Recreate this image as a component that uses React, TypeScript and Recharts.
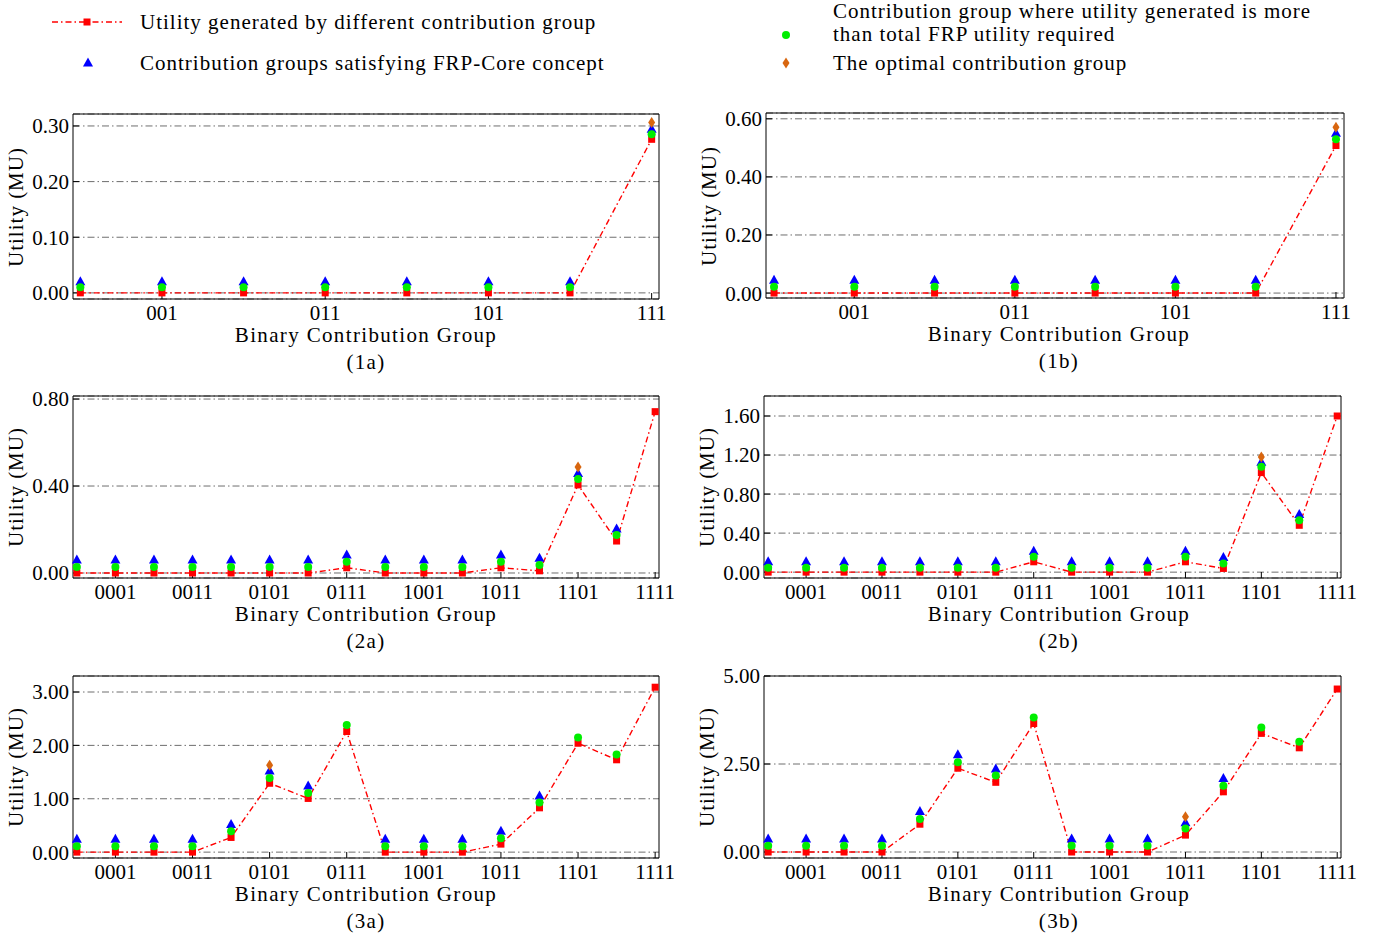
import React from 'react';
import { ComposedChart, Line, XAxis, YAxis, CartesianGrid } from 'recharts';

const FONT = '"Liberation Serif", "Times New Roman", serif';
const FS = 21;

// ---- categories / tick labels ----
const LABELS_3 = ['000', '001', '010', '011', '100', '101', '110', '111'];
const LABELS_4 = ['0000', '0001', '0010', '0011', '0100', '0101', '0110', '0111', '1000', '1001', '1010', '1011', '1100', '1101', '1110', '1111'];

const YTICKS_1A = [0, 0.1, 0.2, 0.3];
const YTICKS_1B = [0, 0.2, 0.4, 0.6];
const YTICKS_2A = [0, 0.4, 0.8];
const YTICKS_2B = [0, 0.4, 0.8, 1.2, 1.6];
const YTICKS_3A = [0, 1, 2, 3];
const YTICKS_3B = [0, 2.5, 5];

// ---- series values ----
const N = null;
// Panel 1a
const RED_1A = [0, 0, 0, 0, 0, 0, 0, 0.276];
const GREEN_1A = [0.01, 0.01, 0.01, 0.01, 0.01, 0.01, 0.01, 0.285];
const BLUE_1A = [0.02, 0.02, 0.02, 0.02, 0.02, 0.02, 0.02, 0.294];
const ORANGE_1A = [N, N, N, N, N, N, N, 0.306];
// Panel 1b
const RED_1B = [0, 0, 0, 0, 0, 0, 0, 0.508];
const GREEN_1B = [0.022, 0.022, 0.022, 0.022, 0.022, 0.022, 0.022, 0.53];
const BLUE_1B = [0.044, 0.044, 0.044, 0.044, 0.044, 0.044, 0.044, 0.55];
const ORANGE_1B = [N, N, N, N, N, N, N, 0.571];
// Panel 2a
const RED_2A = [0, 0, 0, 0, 0, 0, 0, 0.024, 0, 0, 0, 0.024, 0.01, 0.405, 0.147, 0.742];
const GREEN_2A = [0.028, 0.028, 0.028, 0.028, 0.028, 0.028, 0.028, 0.052, 0.028, 0.028, 0.028, 0.052, 0.037, 0.432, 0.175, N];
const BLUE_2A = [0.06, 0.06, 0.06, 0.06, 0.06, 0.06, 0.06, 0.083, 0.06, 0.06, 0.06, 0.083, 0.068, 0.458, 0.202, N];
const ORANGE_2A = [N, N, N, N, N, N, N, N, N, N, N, N, N, 0.487, N, N];
// Panel 2b
const RED_2B = [0, 0, 0, 0, 0, 0, 0, 0.106, 0, 0, 0, 0.106, 0.038, 1.02, 0.48, 1.6];
const GREEN_2B = [0.045, 0.045, 0.045, 0.045, 0.045, 0.045, 0.045, 0.157, 0.045, 0.045, 0.045, 0.157, 0.089, 1.08, 0.533, N];
const BLUE_2B = [0.106, 0.106, 0.106, 0.106, 0.106, 0.106, 0.106, 0.215, 0.106, 0.106, 0.106, 0.215, 0.15, 1.125, 0.59, N];
const ORANGE_2B = [N, N, N, N, N, N, N, N, N, N, N, N, N, 1.18, N, N];
// Panel 3a
const RED_3A = [0, 0, 0, 0, 0.275, 1.29, 1.006, 2.26, 0, 0, 0, 0.15, 0.83, 2.04, 1.73, 3.09];
const GREEN_3A = [0.11, 0.11, 0.11, 0.11, 0.39, 1.39, 1.11, 2.38, 0.11, 0.11, 0.11, 0.26, 0.93, 2.15, 1.83, N];
const BLUE_3A = [0.24, 0.24, 0.24, 0.24, 0.52, 1.52, 1.24, N, 0.24, 0.24, 0.24, 0.39, 1.05, N, N, N];
const ORANGE_3A = [N, N, N, N, N, 1.63, N, N, N, N, N, N, N, N, N, N];
// Panel 3b
const RED_3B = [0, 0, 0, 0, 0.79, 2.38, 1.98, 3.65, 0, 0, 0, 0.48, 1.71, 3.37, 2.96, 4.63];
const GREEN_3B = [0.18, 0.18, 0.18, 0.18, 0.94, 2.55, 2.17, 3.82, 0.18, 0.18, 0.18, 0.67, 1.88, 3.54, 3.13, N];
const BLUE_3B = [0.37, 0.37, 0.37, 0.37, 1.15, 2.76, 2.36, N, 0.37, 0.37, 0.37, 0.83, 2.09, N, N, N];
const ORANGE_3B = [N, N, N, N, N, N, N, N, N, N, N, 1.0, N, N, N, N];

const LEGEND_RED = 'Utility generated by different contribution group';
const LEGEND_BLUE = 'Contribution groups satisfying FRP-Core concept';
const LEGEND_GREEN_1 = 'Contribution group where utility generated is more';
const LEGEND_GREEN_2 = 'than total FRP utility required';
const LEGEND_ORANGE = 'The optimal contribution group';
const X_TITLE = 'Binary Contribution Group';
const Y_TITLE = 'Utility (MU)';

const C_RED = '#ff0000';
const C_GREEN = '#00ee00';
const C_BLUE = '#0000ff';
const C_ORANGE = '#d8660f';
const C_GRID = '#6e6e6e';

const Empty = (k: any) => <g key={`e${k}`} />;

const Square = (p: any) => {
  if (p.value == null || p.cy == null) return Empty(p.index);
  return <rect key={`s${p.index}`} x={p.cx - 3.5} y={p.cy - 3.5} width={7} height={7} fill={C_RED} />;
};
const Circle = (p: any) => {
  if (p.value == null || p.cy == null) return Empty(p.index);
  return <circle key={`c${p.index}`} cx={p.cx} cy={p.cy} r={4} fill={C_GREEN} />;
};
const Triangle = (p: any) => {
  if (p.value == null || p.cy == null) return Empty(p.index);
  const { cx, cy } = p;
  return <path key={`t${p.index}`} d={`M${cx},${cy - 5.5} L${cx + 5},${cy + 3.5} L${cx - 5},${cy + 3.5} Z`} fill={C_BLUE} />;
};
const Diamond = (p: any) => {
  if (p.value == null || p.cy == null) return Empty(p.index);
  const { cx, cy } = p;
  return <path key={`d${p.index}`} d={`M${cx},${cy - 5.5} L${cx + 3.5},${cy} L${cx},${cy + 5.5} L${cx - 3.5},${cy} Z`} fill={C_ORANGE} />;
};

type PanelProps = {
  l: number; t: number; r: number; b: number;
  labels: string[];
  xDomain: [number, number];
  yDomain: [number, number];
  yTicks: number[];
  red: (number | null)[];
  green: (number | null)[];
  blue: (number | null)[];
  orange: (number | null)[];
  caption: string;
  titleX: number;
};

const YW = 70, RW = 1, MR = 40, TH = 1, MT = 10, BH = 30;

function Panel(props: PanelProps) {
  const { l, t, r, b, labels, xDomain, yDomain, yTicks, red, green, blue, orange, caption, titleX } = props;
  const data = labels.map((lab, i) => ({ x: i, red: red[i], green: green[i], blue: blue[i], orange: orange[i] }));
  const xTicks = labels.map((_, i) => i).filter((i) => i % 2 === 1);
  const W = YW + (r - l) + RW + MR;
  const H = MT + TH + (b - t) + BH;
  const tickStyle = { fill: '#000', fontSize: FS, fontFamily: FONT };
  return (
    <>
      <div style={{ position: 'absolute', left: l - YW, top: t - MT - TH }}>
        <ComposedChart width={W} height={H} data={data} margin={{ top: MT, right: MR, bottom: 0, left: 0 }}>
          <CartesianGrid vertical={false} stroke={C_GRID} strokeDasharray="7 3 1.5 3" strokeWidth={1} />
          <XAxis
            type="number" dataKey="x" domain={xDomain} ticks={xTicks} interval={0}
            tickFormatter={(v: number) => labels[v]}
            height={BH} tickSize={-6} tickMargin={12}
            stroke="#000" tick={tickStyle}
          />
          <XAxis
            xAxisId="top" orientation="top" type="number" dataKey="x" domain={xDomain} ticks={xTicks} interval={0}
            height={TH} tickSize={-6} tick={false} stroke="#000"
          />
          <YAxis
            type="number" domain={yDomain} ticks={yTicks} interval={0}
            tickFormatter={(v: number) => v.toFixed(2)}
            width={YW} tickSize={-6} tickMargin={10}
            stroke="#000" tick={tickStyle}
          />
          <YAxis
            yAxisId="right" orientation="right" type="number" domain={yDomain} ticks={yTicks} interval={0}
            width={RW} tickSize={-6} tick={false} stroke="#000"
          />
          <Line dataKey="red" stroke={C_RED} strokeWidth={1.4} strokeDasharray="6 3 1.5 3" dot={Square} activeDot={false} isAnimationActive={false} />
          <Line dataKey="blue" stroke="none" dot={Triangle} activeDot={false} isAnimationActive={false} />
          <Line dataKey="green" stroke="none" dot={Circle} activeDot={false} isAnimationActive={false} />
          <Line dataKey="orange" stroke="none" dot={Diamond} activeDot={false} isAnimationActive={false} />
        </ComposedChart>
      </div>
      <div style={{ ...centerText, left: titleX - 250, top: b + 36 - 10.5 }}>{X_TITLE}</div>
      <div style={{ ...centerText, left: titleX - 250, top: b + 63 - 10.5 }}>{caption}</div>
      <div
        style={{
          position: 'absolute', left: l - 57, top: (t + b) / 2, fontFamily: FONT, fontSize: FS, lineHeight: '21px',
          whiteSpace: 'nowrap', transform: 'translate(-50%, -50%) rotate(-90deg)', letterSpacing: 1,
        }}
      >
        {Y_TITLE}
      </div>
    </>
  );
}

const centerText: React.CSSProperties = {
  position: 'absolute', width: 500, textAlign: 'center', fontFamily: FONT, fontSize: FS,
  lineHeight: '21px', whiteSpace: 'nowrap', letterSpacing: 1.35,
};

const legendText: React.CSSProperties = {
  position: 'absolute', fontFamily: FONT, fontSize: FS, lineHeight: '21px', whiteSpace: 'nowrap', letterSpacing: 1.0,
};

function Legend() {
  return (
    <>
      <svg style={{ position: 'absolute', left: 40, top: 0 }} width={100} height={90}>
        <line x1={12} y1={22} x2={82} y2={22} stroke={C_RED} strokeWidth={1.4} strokeDasharray="6 3 1.5 3" />
        <rect x={43.5} y={18.5} width={7} height={7} fill={C_RED} />
        <path d="M48,57.5 L53,66.5 L43,66.5 Z" fill={C_BLUE} />
      </svg>
      <div style={{ ...legendText, left: 140, top: 22 - 10.5 }}>{LEGEND_RED}</div>
      <div style={{ ...legendText, left: 140, top: 63 - 10.5 }}>{LEGEND_BLUE}</div>
      <svg style={{ position: 'absolute', left: 770, top: 0 }} width={40} height={90}>
        <circle cx={16} cy={35} r={4} fill={C_GREEN} />
        <path d="M16,57.5 L19.5,63 L16,68.5 L12.5,63 Z" fill={C_ORANGE} />
      </svg>
      <div style={{ ...legendText, left: 833, top: 11 - 10.5 }}>{LEGEND_GREEN_1}</div>
      <div style={{ ...legendText, left: 833, top: 34 - 10.5 }}>{LEGEND_GREEN_2}</div>
      <div style={{ ...legendText, left: 833, top: 63 - 10.5 }}>{LEGEND_ORANGE}</div>
    </>
  );
}

export default function App() {
  return (
    <div style={{ position: 'absolute', left: 0, top: 0, width: 1391, height: 941, background: '#fff', overflow: 'hidden' }}>
      <Legend />
      <Panel l={73} t={114} r={659} b={299} labels={LABELS_3} xDomain={[-0.09, 7.09]} yDomain={[-0.011, 0.3215]} yTicks={YTICKS_1A}
        red={RED_1A} green={GREEN_1A} blue={BLUE_1A} orange={ORANGE_1A} caption="(1a)" titleX={366} />
      <Panel l={766} t={113} r={1344} b={298} labels={LABELS_3} xDomain={[-0.1, 7.1]} yDomain={[-0.017, 0.62]} yTicks={YTICKS_1B}
        red={RED_1B} green={GREEN_1B} blue={BLUE_1B} orange={ORANGE_1B} caption="(1b)" titleX={1059} />
      <Panel l={73} t={396} r={659} b={578} labels={LABELS_4} xDomain={[-0.1, 15.1]} yDomain={[-0.023, 0.814]} yTicks={YTICKS_2A}
        red={RED_2A} green={GREEN_2A} blue={BLUE_2A} orange={ORANGE_2A} caption="(2a)" titleX={366} />
      <Panel l={764} t={396} r={1341} b={578} labels={LABELS_4} xDomain={[-0.11, 15.1]} yDomain={[-0.06, 1.805]} yTicks={YTICKS_2B}
        red={RED_2B} green={GREEN_2B} blue={BLUE_2B} orange={ORANGE_2B} caption="(2b)" titleX={1059} />
      <Panel l={73} t={676} r={659} b={858} labels={LABELS_4} xDomain={[-0.1, 15.1]} yDomain={[-0.11, 3.3]} yTicks={YTICKS_3A}
        red={RED_3A} green={GREEN_3A} blue={BLUE_3A} orange={ORANGE_3A} caption="(3a)" titleX={366} />
      <Panel l={764} t={676} r={1341} b={858} labels={LABELS_4} xDomain={[-0.11, 15.1]} yDomain={[-0.17, 5.0]} yTicks={YTICKS_3B}
        red={RED_3B} green={GREEN_3B} blue={BLUE_3B} orange={ORANGE_3B} caption="(3b)" titleX={1059} />
    </div>
  );
}
